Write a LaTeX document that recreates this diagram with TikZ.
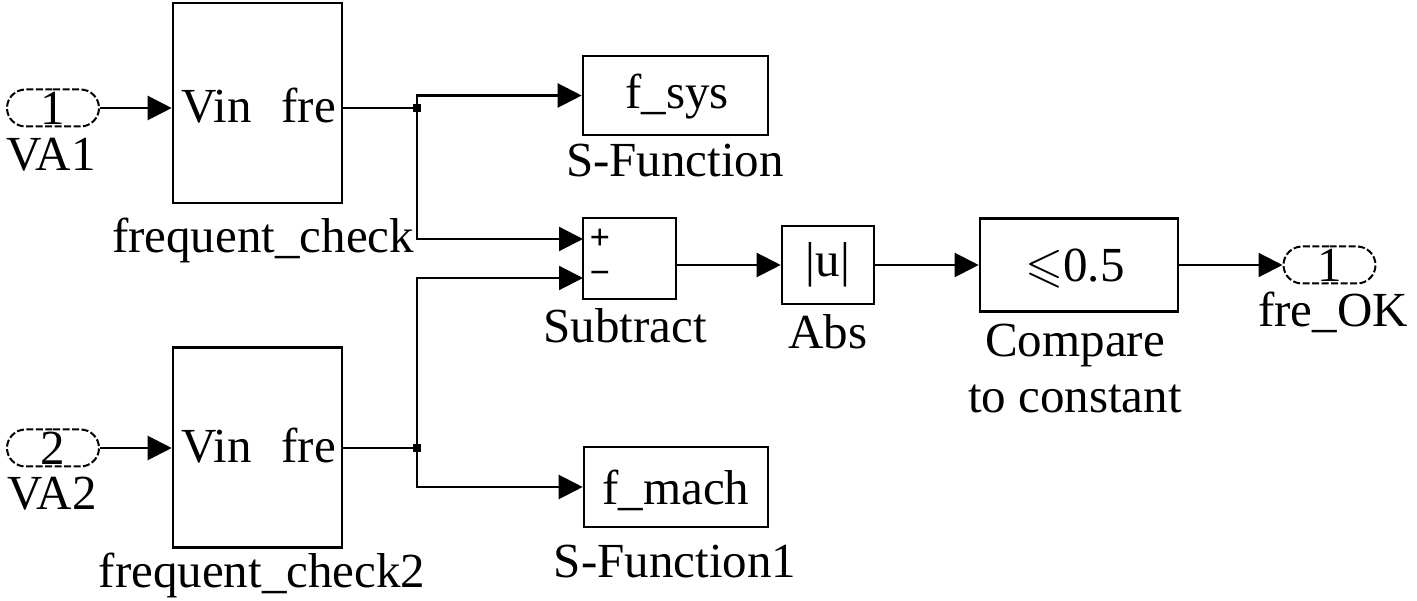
\documentclass[tikz,border=0pt]{standalone}
\usepackage{amssymb}
\usepackage{fontspec}
\setmainfont{Liberation Serif}
\usetikzlibrary{arrows.meta,shapes.misc}
\begin{document}
\begin{tikzpicture}[x=1pt,y=-1pt,
  big/.style={font=\fontsize{49}{58}\selectfont, inner sep=0pt},
  lbl/.style={big, anchor=base},
  blk/.style={draw, line width=2.6pt, inner sep=0pt},
  port/.style={draw, rounded rectangle, dash pattern=on 7pt off 2.5pt, line width=2pt,
               minimum width=92pt, minimum height=37pt, inner sep=0pt},
  num/.style={font=\fontsize{49}{58}\selectfont, inner sep=0pt},
  sgn/.style={font=\bfseries\fontsize{36}{36}\selectfont, inner sep=0pt},
  wire/.style={line width=2.2pt},
  sig/.style={line width=2.2pt, -{Triangle[length=24pt,width=24pt]}},
  junc/.style={fill, rectangle, minimum size=8pt, inner sep=0pt}]
\useasboundingbox (0,0) rectangle (1417,601);
\fill[white] (0,0) rectangle (1417,601);

% inports
\node[port, label={[num]center:1}] (in1) at (53,108) {};
\node[lbl] (lva1) at (51,171) {VA1};
\node[port, label={[num]center:2}] (in2) at (53,448) {};
\node[lbl] (lva2) at (52,509) {VA2};

% frequent_check blocks
\node[blk, minimum width=169pt, minimum height=200pt] (fc1) at (257.5,103) {};
\node[lbl, anchor=base west] (vin1) at (181,123) {Vin};
\node[lbl, anchor=base east] (fre1) at (336,123) {fre};
\node[lbl] (lfc1) at (263,253) {frequent\_check};

\node[blk, minimum width=169pt, minimum height=200pt] (fc2) at (257.5,447.5) {};
\node[lbl, anchor=base west] (vin2) at (181,463) {Vin};
\node[lbl, anchor=base east] (fre2) at (336,463) {fre};
\node[lbl] (lfc2) at (262,587) {frequent\_check2};

% S-functions
\node[blk, minimum width=185pt, minimum height=79pt] (fsys) at (675.5,95.5) {};
\node[lbl] (tfsys) at (677,109) {f\_sys};
\node[lbl] (lfsys) at (675,177) {S-Function};

\node[blk, minimum width=184pt, minimum height=80pt] (fmach) at (676,487) {};
\node[lbl] (tfmach) at (676,504) {f\_mach};
\node[lbl] (lfmach) at (675,577) {S-Function1};

% subtract
\node[blk, minimum width=93pt, minimum height=81pt] (sub) at (629.5,258.5) {};
\node[sgn] (plus) at (600,239) {+};
\node[sgn] (minus) at (600,278) {−};
\node[lbl] (lsub) at (625,343) {Subtract};
\coordinate (subp) at (583,239);
\coordinate (subm) at (583,278);
\coordinate (subo) at (676,265);

% abs
\node[blk, minimum width=92pt, minimum height=78pt] (abs) at (828,265) {};
\node[lbl] (tabs) at (828,277) {|u|};
\node[lbl] (labs) at (828,349) {Abs};

% compare
\node[blk, minimum width=198pt, minimum height=93pt] (cmp) at (1079,265) {};
\node[lbl] (tcmp) at (1075,282) {$\leqslant$0.5};
\node[lbl] (lcmp1) at (1075,357) {Compare};
\node[lbl] (lcmp2) at (1075,413) {to constant};

% outport
\node[port, label={[num]center:1}] (out) at (1329.5,265) {};
\node[lbl] (lout) at (1333,327) {fre\_OK};

% junctions
\node[junc] (j1) at (417,108) {};
\node[junc] (j2) at (417,448) {};

% connectors
\draw[sig] (in1.east) -- (in1 -| fc1.west);
\draw[sig] (in2.east) -- (in2 -| fc2.west);
\draw[wire] (j1 -| fc1.east) -- (j1.center);
\draw[wire] (j2 -| fc2.east) -- (j2.center);
\draw[sig] (j1.center) |- (fsys.west);
\draw[sig] (j1.center) |- (subp);
\draw[sig] (j2.center) |- (subm);
\draw[sig] (j2.center) |- (fmach.west);
\draw[sig] (subo) -- (abs.west);
\draw[sig] (abs.east) -- (cmp.west);
\draw[sig] (cmp.east) -- (out.west);
\end{tikzpicture}
\end{document}
